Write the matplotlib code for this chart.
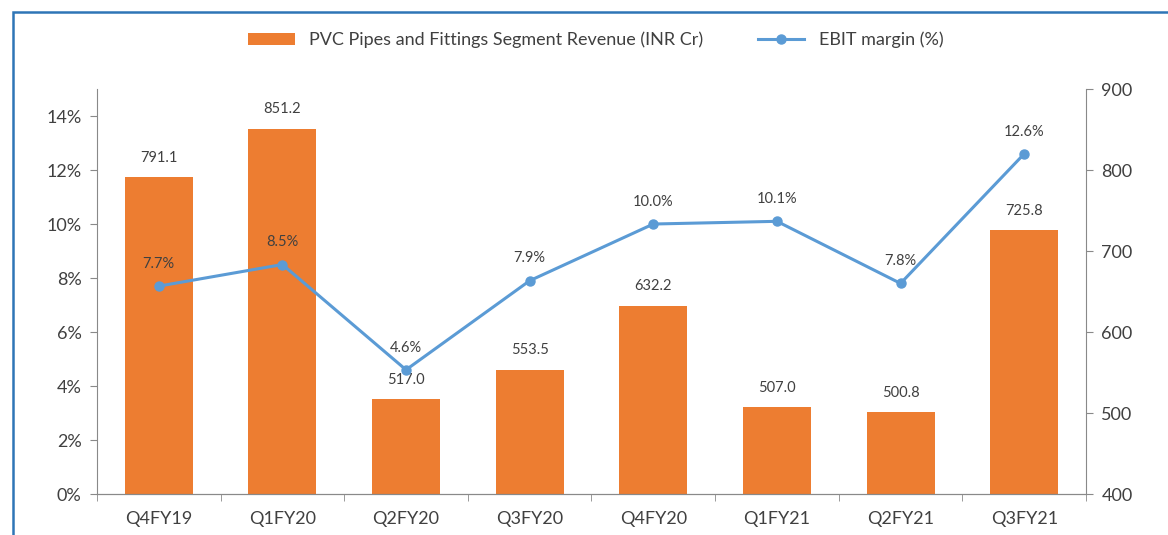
import matplotlib.pyplot as plt
from matplotlib.patches import Rectangle

plt.rcParams['font.family'] = ['Lato', 'DejaVu Sans']

quarters = ["Q4FY19", "Q1FY20", "Q2FY20", "Q3FY20", "Q4FY20", "Q1FY21", "Q2FY21", "Q3FY21"]
revenue = [791.1, 851.2, 517.0, 553.5, 632.2, 507.0, 500.8, 725.8]
ebit_margin = [7.7, 8.5, 4.6, 7.9, 10.0, 10.1, 7.8, 12.6]

bar_color = "#ED7D31"
line_color = "#5B9BD5"
axis_color = "#898989"
text_color = "#404040"

fig = plt.figure(figsize=(11.68, 5.35), dpi=100)
ax = fig.add_axes([0.083, 0.0766, 0.8468, 0.757])
ax2 = ax.twinx()

x = list(range(len(quarters)))

# bars on the right axis
bars = ax2.bar(x, revenue, width=0.55, color=bar_color,
               label="PVC Pipes and Fittings Segment Revenue (INR Cr)")
ax2.set_ylim(400, 900)
ax2.set_yticks(range(400, 901, 100))
for xi, v in zip(x, revenue):
    ax2.annotate(f"{v:.1f}", (xi, v), xytext=(0, 9), textcoords="offset points",
                 ha="center", va="bottom", fontsize=10.5, color=text_color)

# line on the left axis
line, = ax.plot(x, ebit_margin, color=line_color, lw=2.2, marker="o", ms=6.5,
                label="EBIT margin (%)")
ax.set_ylim(0, 15)
ax.set_yticks(range(0, 15, 2))
ax.set_yticklabels([f"{t}%" for t in range(0, 15, 2)])
for xi, v in zip(x, ebit_margin):
    ax.annotate(f"{v:.1f}%", (xi, v), xytext=(0, 11), textcoords="offset points",
                ha="center", va="bottom", fontsize=10.5, color=text_color)

ax.set_zorder(ax2.get_zorder() + 1)
ax.patch.set_visible(False)

ax.set_xlim(-0.5, len(quarters) - 0.5)
ax.set_xticks(x)
ax.set_xticklabels(quarters)
ax.set_xticks([i + 0.5 for i in range(-1, len(quarters))], minor=True)
ax.tick_params(axis="x", which="major", length=0, pad=12, labelsize=13, labelcolor=text_color)
ax.tick_params(axis="x", which="minor", length=5, color=axis_color, direction="out")
ax.tick_params(axis="y", length=5, color=axis_color, labelsize=13, labelcolor=text_color, pad=6)
ax2.tick_params(axis="y", length=5, color=axis_color, labelsize=13, labelcolor=text_color, pad=6)

for a in (ax, ax2):
    a.spines["top"].set_visible(False)
    for s in ("left", "right", "bottom"):
        a.spines[s].set_color(axis_color)
ax.spines["right"].set_visible(False)
ax2.spines["left"].set_visible(False)

fig.legend([bars, line], [bars.get_label(), line.get_label()], loc="center",
           bbox_to_anchor=(0.51, 0.925), ncol=2, frameon=False, fontsize=13,
           labelcolor=text_color, columnspacing=3, handlelength=2.6)

# outer blue frame
fig.patches.append(Rectangle((0.0115, -0.05), 1.05, 1.0276, transform=fig.transFigure,
                             fill=False, edgecolor="#2E75B6", lw=1.8))

fig.savefig("out.png", dpi=100)
